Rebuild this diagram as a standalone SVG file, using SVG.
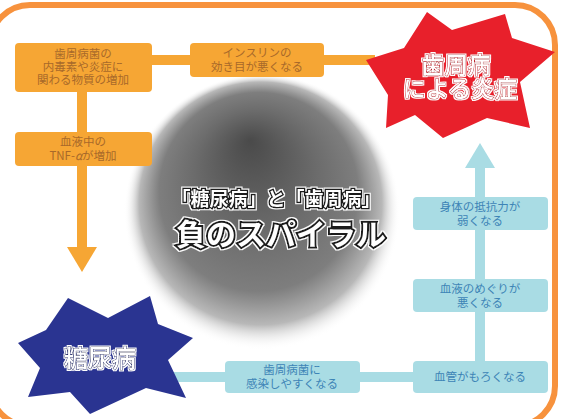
<svg xmlns="http://www.w3.org/2000/svg" width="561" height="419" viewBox="0 0 561 419">
<defs>
<radialGradient id="blob" cx="262" cy="212" r="138" fx="250" fy="140" gradientUnits="userSpaceOnUse">
<stop offset="0" stop-color="#4a4a4a"/>
<stop offset="0.45" stop-color="#6c6c6c"/>
<stop offset="0.72" stop-color="#7e7e7e"/>
<stop offset="0.88" stop-color="#b8b8b8"/>
<stop offset="1" stop-color="#ffffff" stop-opacity="0"/>
</radialGradient>
<filter id="halo" x="-10%" y="-20%" width="120%" height="140%">
<feMorphology in="SourceAlpha" operator="dilate" radius="1.2" result="d"/>
<feFlood flood-color="#ffffff"/>
<feComposite in2="d" operator="in" result="h"/>
<feMerge><feMergeNode in="h"/><feMergeNode in="SourceGraphic"/></feMerge>
</filter>
</defs>
<style>
.ob{fill:#F6A634}
.tb{fill:#A9DCE4}
.ot{font-family:"Noto Sans CJK JP","Noto Sans",sans-serif;font-size:11.5px;fill:#A8692A;text-anchor:middle}
.tt{font-family:"Noto Sans CJK JP","Noto Sans",sans-serif;font-size:11.5px;fill:#3D84B6;text-anchor:middle}
.oc{stroke:#F6A634;stroke-width:10;fill:none}
.tc{stroke:#A9DCE4;stroke-width:10;fill:none}
.star{font-family:"Noto Sans CJK JP","Noto Sans",sans-serif;font-weight:500;text-anchor:middle;fill:#ffffff;stroke-width:1;paint-order:stroke;filter:url(#halo)}
.title{font-family:"Noto Sans CJK JP","Noto Sans",sans-serif;font-weight:bold;text-anchor:middle;fill:#ffffff;stroke:#1a1a1a;paint-order:stroke;filter:url(#halo)}
</style>
<rect width="561" height="419" fill="#ffffff"/>
<rect x="-10" y="5" width="565" height="421" rx="40" ry="40" fill="none" stroke="#F7923D" stroke-width="6"/>
<ellipse cx="262" cy="212" rx="140" ry="140" fill="url(#blob)"/>
<g id="connectors">
<path class="oc" d="M150,60 H192 M322,60 H375"/>
<path class="oc" d="M82,92 V250"/>
<polygon points="67,247 97,247 82,272" fill="#F6A634"/>
<path class="tc" d="M165,377 H227 M358,377 H415"/>
<path class="tc" d="M480,362 V165"/>
<polygon points="480,143 465,168 495,168" fill="#A9DCE4"/>
</g>
<g id="title">
<text class="title" x="276" y="206" font-size="19" stroke-width="3">「糖尿病」と「歯周病」</text>
<text class="title" x="281" y="245" font-size="30" stroke-width="4">負のスパイラル</text>
</g>
<g id="n1">
<rect class="ob" x="15" y="43" width="137" height="49" rx="4"/>
<text class="ot" x="83" y="58">歯周病菌の</text>
<text class="ot" x="83" y="71">内毒素や炎症に</text>
<text class="ot" x="83" y="84">関わる物質の増加</text>
</g>
<g id="n2">
<rect class="ob" x="190" y="43" width="134" height="34" rx="4"/>
<text class="ot" x="257" y="57">インスリンの</text>
<text class="ot" x="257" y="71">効き目が悪くなる</text>
</g>
<g id="n3">
<rect class="ob" x="15" y="132" width="137" height="34" rx="4"/>
<text class="ot" x="83" y="146">血液中の</text>
<text class="ot" x="83" y="160">TNF-<tspan font-style="italic">α</tspan>が増加</text>
</g>
<g id="periodontal">
<path d="M427,12 L452,30 L505,14 L512,38 L555,52 L520,82 L530,128 L487,118 L443,138 L415,115 L386,128 L388,95 L366,60 L404,48 Z" fill="#E8202B"/>
<text class="star" x="456" y="73" font-size="23" stroke="#B8141E">歯周病</text>
<text class="star" x="460" y="97" font-size="23" stroke="#B8141E">による炎症</text>
</g>
<g id="diabetes">
<path d="M68,298 L108,318 L150,296 L158,324 L193,338 L168,360 L186,398 L146,388 L90,414 L70,392 L28,397 L40,368 L18,343 L46,330 Z" fill="#2A3491"/>
<text class="star" x="100" y="367" font-size="24" stroke="#141C60">糖尿病</text>
</g>
<g id="t1">
<rect class="tb" x="413" y="197" width="135" height="33" rx="4"/>
<text class="tt" x="480" y="211">身体の抵抗力が</text>
<text class="tt" x="480" y="225">弱くなる</text>
</g>
<g id="t2">
<rect class="tb" x="413" y="279" width="135" height="33" rx="4"/>
<text class="tt" x="480" y="293">血液のめぐりが</text>
<text class="tt" x="480" y="307">悪くなる</text>
</g>
<g id="t3">
<rect class="tb" x="413" y="361" width="135" height="32" rx="4"/>
<text class="tt" x="480" y="381">血管がもろくなる</text>
</g>
<g id="t4">
<rect class="tb" x="225" y="361" width="135" height="32" rx="4"/>
<text class="tt" x="292" y="374">歯周病菌に</text>
<text class="tt" x="292" y="388">感染しやすくなる</text>
</g>
</svg>
